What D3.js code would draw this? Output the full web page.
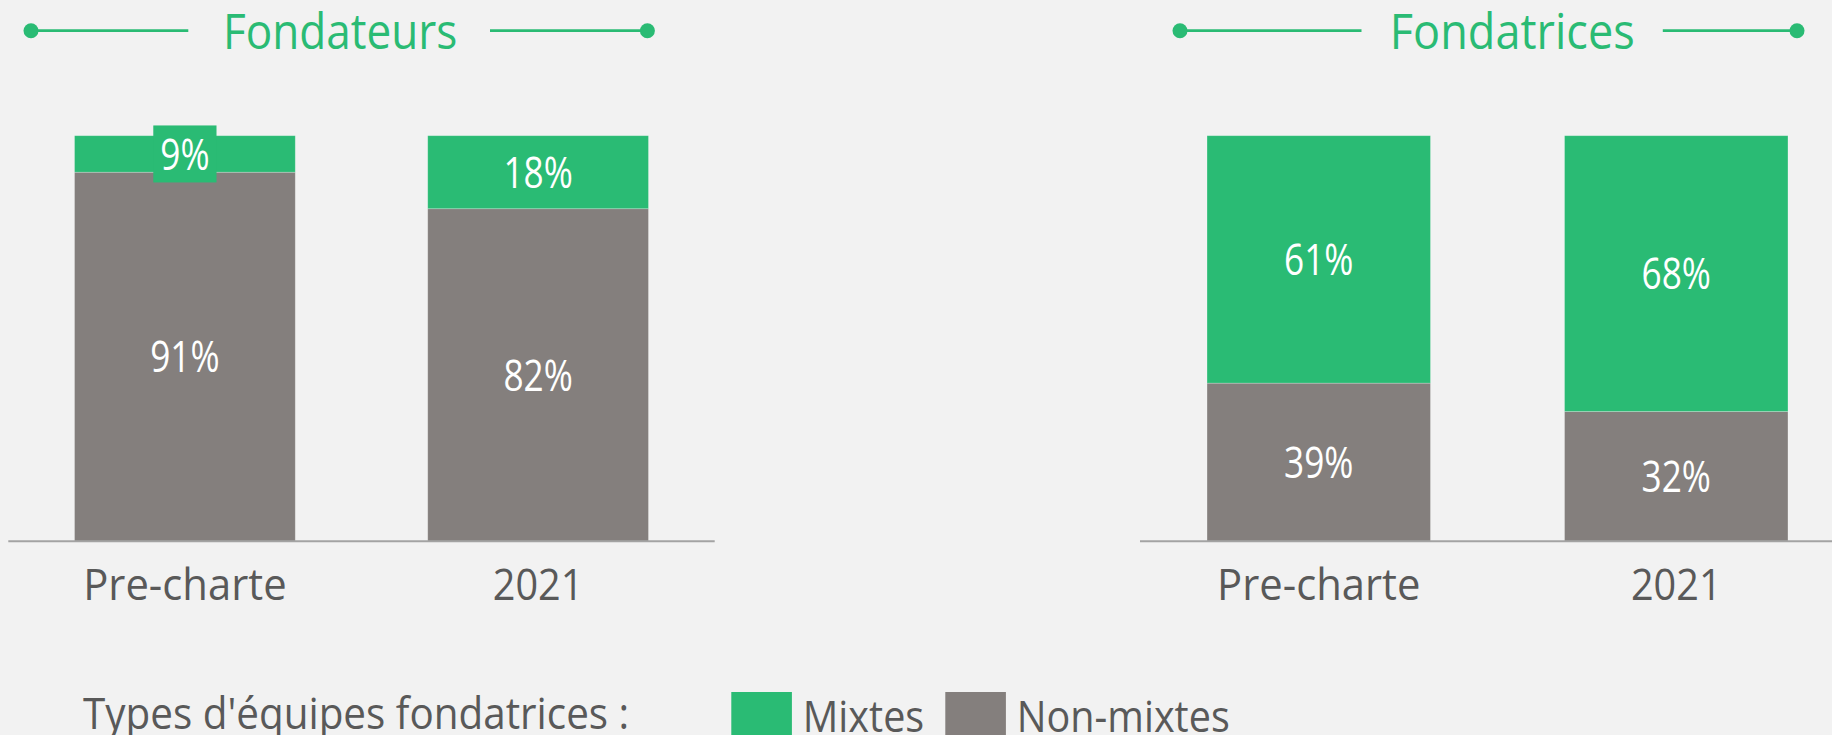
<!DOCTYPE html>
<html>
<head>
<meta charset="utf-8">
<script src="https://cdn.jsdelivr.net/npm/d3@7"></script>
<style>
  html, body { margin: 0; padding: 0; background: #f2f2f2; }
  svg { display: block; }
</style>
</head>
<body>
<div id="chart"></div>
<script>
// Data
const categories = ["Pre-charte", "2021"];
const panelTitles = ["Fondateurs", "Fondatrices"];
const fondateursMixtes = [9, 18];
const fondateursNonMixtes = [91, 82];
const fondatricesMixtes = [61, 68];
const fondatricesNonMixtes = [39, 32];
const seriesNames = ["Mixtes", "Non-mixtes"];
const legendTitle = "Types d'équipes fondatrices :";

// Colors
const green = "#2abb74";
const grey = "#847f7d";
const textGrey = "#595959";
const axisGrey = "#a3a3a3";
const bg = "#f2f2f2";

const width = 1832, height = 735;
const fontFamily = "'Open Sans', sans-serif";

const svg = d3.select("#chart").append("svg")
    .attr("width", width)
    .attr("height", height);

svg.append("rect").attr("width", width).attr("height", height).attr("fill", bg);

// y scale shared by both panels
const y = d3.scaleLinear().domain([0, 100]).range([541.3, 135.7]);

// Panel layout (pixel positions only)
const panels = [
    { title: panelTitles[0], mixtes: fondateursMixtes, nonMixtes: fondateursNonMixtes,
      range: [8.3, 714.7], titleX: 340.2, titleSx: 0.9, lineL: [31, 188.3], lineR: [490, 647.4] },
    { title: panelTitles[1], mixtes: fondatricesMixtes, nonMixtes: fondatricesNonMixtes,
      range: [1140, 1855], titleX: 1512.3, titleSx: 0.92, lineL: [1180, 1361.5], lineR: [1662.8, 1797] }
];

// helper: text squeezed horizontally to mimic the condensed face
function addText(parent, x, yPos, str, size, fill, sx, anchor) {
    return parent.append("text")
        .attr("transform", `translate(${x},${yPos}) scale(${sx},1)`)
        .attr("text-anchor", anchor || "middle")
        .attr("font-family", fontFamily)
        .attr("font-size", size)
        .attr("fill", fill)
        .text(str);
}

panels.forEach(p => {
    const g = svg.append("g");

    const x = d3.scaleBand()
        .domain(categories)
        .range(p.range)
        .paddingInner(0.375)
        .paddingOuter(0.1875);

    // Non-mixtes (bottom) segments
    g.selectAll(".nm").data(categories).enter().append("rect")
        .attr("x", d => x(d))
        .attr("width", x.bandwidth())
        .attr("y", (d, i) => y(p.nonMixtes[i]))
        .attr("height", (d, i) => y(0) - y(p.nonMixtes[i]))
        .attr("fill", grey)
        .attr("stroke", "rgba(255,255,255,0.3)")
        .attr("stroke-width", 0.8);

    // Mixtes (top) segments
    g.selectAll(".mx").data(categories).enter().append("rect")
        .attr("x", d => x(d))
        .attr("width", x.bandwidth())
        .attr("y", (d, i) => y(p.nonMixtes[i] + p.mixtes[i]))
        .attr("height", (d, i) => y(p.nonMixtes[i]) - y(p.nonMixtes[i] + p.mixtes[i]))
        .attr("fill", green)
        .attr("stroke", "rgba(255,255,255,0.3)")
        .attr("stroke-width", 0.8);

    // Axis baseline
    g.append("line")
        .attr("x1", p.range[0]).attr("x2", p.range[1])
        .attr("y1", y(0)).attr("y2", y(0))
        .attr("stroke", axisGrey)
        .attr("stroke-width", 2);

    // Value labels
    const valSize = 44, valSx = 0.8;
    categories.forEach((c, i) => {
        const cx = x(c) + x.bandwidth() / 2;
        // non-mixtes
        const nmMid = (y(0) + y(p.nonMixtes[i])) / 2;
        addText(g, cx, nmMid + valSize * 0.357, p.nonMixtes[i] + "%", valSize, "#fff", valSx);
        // mixtes
        const top = y(p.nonMixtes[i] + p.mixtes[i]);
        const mid = (top + y(p.nonMixtes[i])) / 2;
        const boxH = 57;
        if (y(p.nonMixtes[i]) - top < boxH) {
            // label box that spills over the segment
            const t = addText(g, cx, mid + valSize * 0.357, p.mixtes[i] + "%", valSize, "#fff", valSx);
            const w = t.node().getComputedTextLength() * valSx + 14;
            g.insert("rect", () => t.node())
                .attr("x", cx - w / 2).attr("width", w)
                .attr("y", mid - boxH / 2).attr("height", boxH)
                .attr("fill", green);
        } else {
            addText(g, cx, mid + valSize * 0.357, p.mixtes[i] + "%", valSize, "#fff", valSx);
        }
        // category labels
        addText(g, cx, 600, c, 44, textGrey, c === categories[0] ? 0.95 : 0.9);
    });

    // Title with rules ending in dots
    addText(g, p.titleX, 49.3, p.title, 49, green, p.titleSx);
    [p.lineL, p.lineR].forEach(seg => {
        g.append("line")
            .attr("x1", seg[0]).attr("x2", seg[1])
            .attr("y1", 30.7).attr("y2", 30.7)
            .attr("stroke", green).attr("stroke-width", 2.7);
    });
    [p.lineL[0], p.lineR[1]].forEach(cx => {
        g.append("circle").attr("cx", cx).attr("cy", 30.7).attr("r", 7.5).attr("fill", green);
    });
});

// Legend
const lg = svg.append("g");
addText(lg, 83, 728.5, legendTitle, 43, textGrey, 0.94, "start");
const legendX = [731.3, 945.3];
seriesNames.forEach((name, i) => {
    lg.append("rect")
        .attr("x", legendX[i]).attr("y", 692)
        .attr("width", 60.6).attr("height", 60.6)
        .attr("fill", i === 0 ? green : grey);
    addText(lg, legendX[i] + 71.5, 731.5, name, 43, textGrey, 0.92, "start");
});
</script>
</body>
</html>
